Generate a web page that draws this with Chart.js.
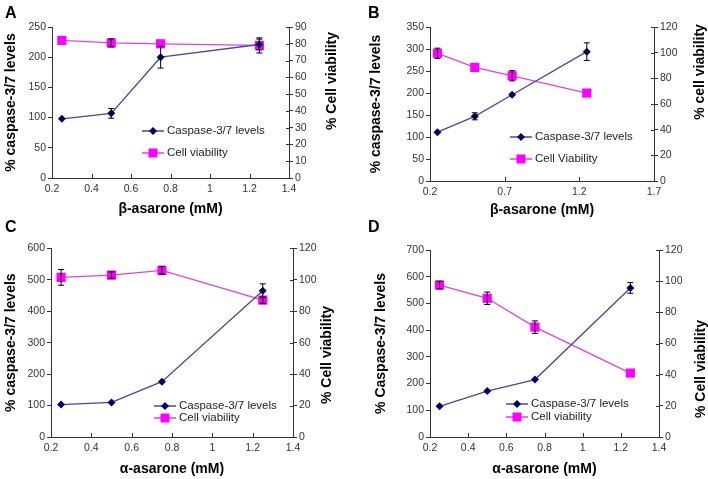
<!DOCTYPE html>
<html>
<head>
<meta charset="utf-8">
<script src="https://cdn.jsdelivr.net/npm/chart.js@4.4.1/dist/chart.umd.min.js"></script>
<style>
  body { margin: 0; background: #fff; }
  #wrap { position: relative; width: 708px; height: 479px; }
  .panel { position: absolute; }
  .letter { position: absolute; font: bold 16px "Liberation Sans", Arial, sans-serif; color: #000; }
</style>
</head>
<body>
<div id="wrap">
  <canvas class="panel" id="chartA" width="354" height="240" style="left:0;top:0"></canvas>
  <canvas class="panel" id="chartB" width="354" height="240" style="left:354px;top:0"></canvas>
  <canvas class="panel" id="chartC" width="354" height="239" style="left:0;top:240px"></canvas>
  <canvas class="panel" id="chartD" width="354" height="239" style="left:354px;top:240px"></canvas>
  <div class="letter" style="left:5px;top:4px">A</div>
  <div class="letter" style="left:368px;top:4px">B</div>
  <div class="letter" style="left:5px;top:218px">C</div>
  <div class="letter" style="left:368px;top:218px">D</div>
</div>
<script>
// doses (mM)
const doses = [0.25, 0.5, 0.75, 1.25];

// A: beta-asarone
const casA = [98, 107, 200, 221];
const casAErr = [2, 8, 18, 9];
const viaA = [82, 80.5, 80, 79];
const viaAErr = [1, 2.4, 1, 4.5];

// B: beta-asarone
const casB = [111, 147, 196, 294];
const casBErr = [3, 8, 3, 20];
const viaB = [99.5, 88.5, 82, 68.5];
const viaBErr = [4, 1, 4, 1];

// C: alpha-asarone
const casC = [103, 110, 176, 465];
const casCErr = [3, 3, 4, 22];
const viaC = [101.5, 103, 106, 87];
const viaCErr = [5, 2, 2.5, 2];

// D: alpha-asarone
const casD = [115, 172, 215, 558];
const casDErr = [3, 5, 4, 20];
const viaD = [97.5, 89, 70.5, 41];
const viaDErr = [2.5, 4, 4, 1];

// tick values
const xTicks14 = [0.2, 0.4, 0.6, 0.8, 1, 1.2, 1.4];
const xTicksB = [0.2, 0.7, 1.2, 1.7];
const yTicksA = [0, 50, 100, 150, 200, 250];
const y2TicksA = [0, 10, 20, 30, 40, 50, 60, 70, 80, 90];
const yTicksB = [0, 50, 100, 150, 200, 250, 300, 350];
const yTicksC = [0, 100, 200, 300, 400, 500, 600];
const yTicksD = [0, 100, 200, 300, 400, 500, 600, 700];
const y2Ticks120 = [0, 20, 40, 60, 80, 100, 120];

const FONT = '"Liberation Sans", Arial, sans-serif';
const CAS_LINE = '#4a4a8c';
const CAS_DOT = '#000066';
const VIA_LINE = '#dd44dd';
const VIA_DOT = '#ff00ff';

// error bars drawn through the scales
const errorBars = {
  id: 'errorBars',
  afterDatasetsDraw(chart) {
    const ctx = chart.ctx;
    chart.data.datasets.forEach((ds, i) => {
      if (!ds.errors) return;
      const meta = chart.getDatasetMeta(i);
      const ys = chart.scales[ds.yAxisID];
      ctx.save();
      ctx.strokeStyle = '#000';
      ctx.lineWidth = 1;
      meta.data.forEach((pt, j) => {
        const e = ds.errors[j];
        const v = ds.data[j].y;
        const top = ys.getPixelForValue(v + e);
        const bot = ys.getPixelForValue(v - e);
        if (bot - top < 4) return;
        ctx.beginPath();
        ctx.moveTo(pt.x, top); ctx.lineTo(pt.x, bot);
        ctx.moveTo(pt.x - 3, top); ctx.lineTo(pt.x + 3, top);
        ctx.moveTo(pt.x - 3, bot); ctx.lineTo(pt.x + 3, bot);
        ctx.stroke();
      });
      ctx.restore();
    });
  }
};

// inward tick marks (x axis up, right axis crossing)
const innerTicks = {
  id: 'innerTicks',
  afterDraw(chart) {
    const ctx = chart.ctx;
    const a = chart.chartArea;
    ctx.save();
    ctx.strokeStyle = '#333';
    ctx.lineWidth = 1;
    ctx.beginPath();
    chart.scales.x.ticks.forEach(t => {
      const px = Math.round(chart.scales.x.getPixelForValue(t.value)) + 0.5;
      ctx.moveTo(px, a.bottom); ctx.lineTo(px, a.bottom - 4);
    });
    chart.scales.y2.ticks.forEach(t => {
      const py = Math.round(chart.scales.y2.getPixelForValue(t.value)) + 0.5;
      ctx.moveTo(a.right, py); ctx.lineTo(a.right - 3, py);
    });
    ctx.stroke();
    ctx.restore();
  }
};

// in-plot legend and right-hand axis title (reads bottom to top)
const extras = {
  id: 'extras',
  afterDraw(chart, args, opts) {
    const ctx = chart.ctx;
    ctx.save();
    ctx.fillStyle = '#000';
    ctx.font = 'bold 14px ' + FONT;
    ctx.textAlign = 'center';
    ctx.textBaseline = 'middle';
    ctx.translate(opts.rt.x, opts.rt.y);
    ctx.rotate(-Math.PI / 2);
    ctx.fillText(opts.rt.text, 0, 0);
    ctx.restore();

    const lg = opts.legend;
    const rows = [
      { y: lg.y1, text: lg.t1, line: CAS_LINE, dot: CAS_DOT, shape: 'diamond' },
      { y: lg.y2, text: lg.t2, line: VIA_LINE, dot: VIA_DOT, shape: 'square' }
    ];
    ctx.save();
    rows.forEach(r => {
      ctx.strokeStyle = r.line;
      ctx.lineWidth = 1.5;
      ctx.beginPath();
      ctx.moveTo(lg.x, r.y); ctx.lineTo(lg.x + 22, r.y);
      ctx.stroke();
      const cx = lg.x + 11;
      ctx.fillStyle = r.dot;
      ctx.beginPath();
      if (r.shape === 'diamond') {
        ctx.moveTo(cx, r.y - 4); ctx.lineTo(cx + 4, r.y);
        ctx.lineTo(cx, r.y + 4); ctx.lineTo(cx - 4, r.y);
      } else {
        ctx.rect(cx - 4.5, r.y - 4.5, 9, 9);
      }
      ctx.closePath();
      ctx.fill();
      ctx.fillStyle = '#222';
      ctx.font = '11.5px ' + FONT;
      ctx.textAlign = 'left';
      ctx.textBaseline = 'middle';
      ctx.fillText(r.text, lg.x + 25, r.y);
    });
    ctx.restore();
  }
};

function pts(xs, ys) {
  return xs.map((x, i) => ({ x: x, y: ys[i] }));
}

function fmt(v) {
  return String(+Number(v).toFixed(2));
}

function axis(pos, min, max, ticks, size, extra) {
  const a = {
    type: 'linear',
    position: pos,
    min: min,
    max: max,
    border: { color: '#333', width: 1 },
    grid: { drawOnChartArea: false, drawTicks: pos !== 'bottom', tickLength: 4, color: '#333' },
    ticks: { color: '#333', font: { family: FONT, size: 10.5 }, padding: pos === 'bottom' ? 5 : 2, autoSkip: false, maxRotation: 0, callback: fmt },
    afterBuildTicks: s => { s.ticks = ticks.map(v => ({ value: v })); },
    afterFit: s => {
      if (pos === 'bottom') s.height = size; else s.width = size;
    }
  };
  return Object.assign(a, extra || {});
}

function makePanel(id, p) {
  const W = p.w, H = p.h, b = p.box;
  new Chart(document.getElementById(id), {
    type: 'line',
    data: {
      datasets: [
        {
          label: p.legend.t1,
          data: pts(doses, p.cas),
          errors: p.casErr,
          yAxisID: 'y',
          borderColor: CAS_LINE,
          borderWidth: 1.3,
          pointStyle: 'rectRot',
          pointRadius: 4,
          pointBackgroundColor: CAS_DOT,
          pointBorderColor: CAS_DOT,
          pointBorderWidth: 0,
          tension: 0
        },
        {
          label: p.legend.t2,
          data: pts(doses, p.via),
          errors: p.viaErr,
          yAxisID: 'y2',
          borderColor: VIA_LINE,
          borderWidth: 1.3,
          pointStyle: 'rect',
          pointRadius: 6.5,
          pointBackgroundColor: VIA_DOT,
          pointBorderColor: VIA_DOT,
          pointBorderWidth: 0,
          tension: 0
        }
      ]
    },
    options: {
      responsive: false,
      animation: false,
      devicePixelRatio: 1,
      layout: { padding: { top: b.t, left: 0, right: 0, bottom: 0 } },
      scales: {
        x: axis('bottom', p.xMin, p.xMax, p.xTicks, H - b.b, {
          title: { display: true, text: p.xTitle, color: '#000', font: { family: FONT, size: 14, weight: 'bold' }, padding: { top: 0, bottom: p.xPad } }
        }),
        y: axis('left', 0, p.yMax, p.yTicks, b.l, {
          title: { display: true, text: p.yTitle, color: '#000', font: { family: FONT, size: 14, weight: 'bold' }, padding: { top: p.yPad, bottom: 0 } }
        }),
        y2: axis('right', 0, p.y2Max, p.y2Ticks, W - b.r)
      },
      plugins: {
        legend: { display: false },
        tooltip: { enabled: false },
        extras: { rt: p.rt, legend: p.legend }
      }
    },
    plugins: [errorBars, innerTicks, extras]
  });
}

makePanel('chartA', {
  w: 354, h: 240, box: { l: 52, r: 289, t: 27, b: 178 },
  cas: casA, casErr: casAErr, via: viaA, viaErr: viaAErr,
  xMin: 0.2, xMax: 1.4, xTicks: xTicks14, yMax: 250, yTicks: yTicksA, y2Max: 90, y2Ticks: y2TicksA,
  xTitle: 'β-asarone (mM)', xPad: 22, yTitle: '% caspase-3/7 levels', yPad: 2.5,
  rt: { text: '% Cell viability', x: 332, y: 81 },
  legend: { x: 142, y1: 131, y2: 153, t1: 'Caspase-3/7 levels', t2: 'Cell viability' }
});

makePanel('chartB', {
  w: 354, h: 240, box: { l: 76, r: 300, t: 27, b: 181 },
  cas: casB, casErr: casBErr, via: viaB, viaErr: viaBErr,
  xMin: 0.2, xMax: 1.7, xTicks: xTicksB, yMax: 350, yTicks: yTicksB, y2Max: 120, y2Ticks: y2Ticks120,
  xTitle: 'β-asarone (mM)', xPad: 21, yTitle: '% caspase-3/7 levels', yPad: 13.5,
  rt: { text: '% cell viability', x: 346, y: 72 },
  legend: { x: 156, y1: 137, y2: 159, t1: 'Caspase-3/7 levels', t2: 'Cell Viability' }
});

makePanel('chartC', {
  w: 354, h: 239, box: { l: 51, r: 293, t: 7, b: 197 },
  cas: casC, casErr: casCErr, via: viaC, viaErr: viaCErr,
  xMin: 0.2, xMax: 1.4, xTicks: xTicks14, yMax: 600, yTicks: yTicksC, y2Max: 120, y2Ticks: y2Ticks120,
  xTitle: 'α-asarone (mM)', xPad: 1, yTitle: '% caspase-3/7 levels', yPad: 2.5,
  rt: { text: '% Cell viability', x: 327, y: 115 },
  legend: { x: 154, y1: 166, y2: 178, t1: 'Caspase-3/7 levels', t2: 'Cell viability' }
});

makePanel('chartD', {
  w: 354, h: 239, box: { l: 76, r: 305, t: 10, b: 197 },
  cas: casD, casErr: casDErr, via: viaD, viaErr: viaDErr,
  xMin: 0.2, xMax: 1.4, xTicks: xTicks14, yMax: 700, yTicks: yTicksD, y2Max: 120, y2Ticks: y2Ticks120,
  xTitle: 'α-asarone (mM)', xPad: 1.5, yTitle: '% Caspase-3/7 levels', yPad: 18.5,
  rt: { text: '% Cell viability', x: 347, y: 129 },
  legend: { x: 152, y1: 164, y2: 177, t1: 'Caspase-3/7 levels', t2: 'Cell viability' }
});
</script>
</body>
</html>
